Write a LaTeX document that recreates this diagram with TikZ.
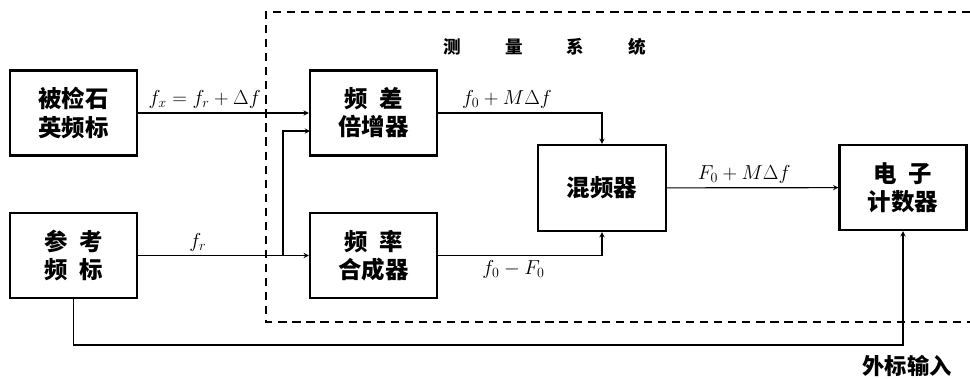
\documentclass[tikz,border=0pt]{standalone}
\usepackage{fontspec}
\newfontfamily\cjk{Noto Sans CJK SC}
\begin{document}
\begin{tikzpicture}
         [x=0.03cm, y=-0.03cm,
          block/.style={draw, line width=2pt, minimum width=3.81cm, minimum height=2.55cm, align=center,
                        font=\cjk\bfseries\fontsize{20}{24}\selectfont},
          sig/.style={-stealth, line width=1pt},
          lbl/.style={font=\fontsize{17}{20}\selectfont},
          cjklbl/.style={font=\cjk\bfseries\fontsize{15}{18}\selectfont}]
         \useasboundingbox (0,0) rectangle (970,378);
         \node[block] (src) at (73.5,113) {被检石\\英频标};
         \node[block] (ref) at (73.5,255.5) {参\hspace{0.5em}考\\频\hspace{0.5em}标};
         \node[block] (mult) at (373.5,113) {频\hspace{0.5em}差\\倍增器};
         \node[block] (synth) at (373.5,255.5) {频\hspace{0.5em}率\\合成器};
         \node[block, minimum width=3.84cm, minimum height=2.58cm] (mix) at (602,188) {混频器};
         \node[block] (cnt) at (903,187.5) {电\hspace{0.5em}子\\计数器};

         % measuring system frame
         \draw[line width=1.3pt, dash pattern=on 7pt off 5pt] (970,12) -- (266,12) -- (266,322) -- (970,322);
         \node[cjklbl] (title) at (545,47) {测\hspace{2.5em}量\hspace{2.5em}系\hspace{2.5em}统};

         \coordinate (tap) at (283,255.5);
         \coordinate (in2) at (310,131);
         \coordinate (ext) at (903,345);

         \draw[sig] (src) -- node[lbl, above, pos=0.39] {$f_x=f_r+\Delta f$} (mult);
         \draw[sig] (ref) -- node[lbl, above, pos=0.35] {$f_r$} (synth);
         \draw[sig] (tap) |- (in2);

         \draw[sig] (mult) -| node[lbl, above, pos=0.21] {$f_0+M\Delta f$} (mix);
         \draw[sig] (synth) -| node[lbl, below, pos=0.23] {$f_0-F_0$} (mix);
         \draw[sig] (mix) -- node[lbl, above, pos=0.45] {$F_0+M\Delta f$} (cnt);

         \draw[sig] (ref) |- (ext) -- (cnt);
         \node[cjklbl, font=\cjk\bfseries\fontsize{19}{22}\selectfont] (extlbl) at (907,366) {外标输入};
      \end{tikzpicture}
\end{document}
